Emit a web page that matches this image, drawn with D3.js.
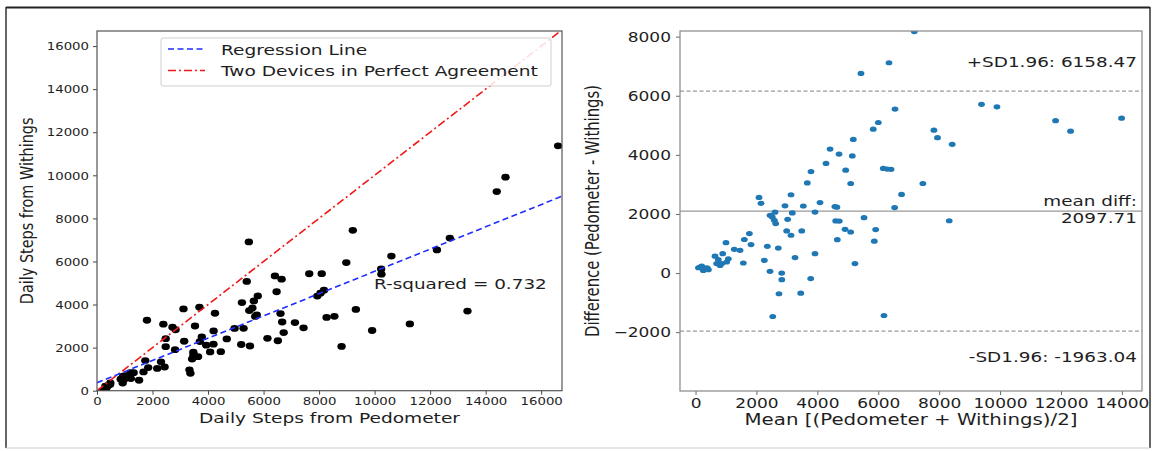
<!DOCTYPE html>
<html>
<head>
<meta charset="utf-8">
<script src="https://cdn.jsdelivr.net/npm/d3@7"></script>
<style>
  body { margin: 0; background: #fff; }
  text { font-family: "DejaVu Sans", sans-serif; fill: #1e1e1e; }
</style>
</head>
<body>
<svg id="chart" width="1155" height="451"></svg>
<script>
// Daily steps per participant-day
const pedometer = [
  11270, 9910, 8810, 9325, 8550, 8270, 10245, 10235, 10605, 12245,
  12710, 14400, 14715, 16610, 7440, 6515, 6725, 7130, 6140, 5510,
  6670, 7935, 8050, 8175, 5195, 6610, 8980, 8095, 7645, 9215,
  4460, 3365, 3330, 4075, 4675, 5280, 5700, 5755, 3640, 4195,
  4955, 3425, 3470, 3480, 3470, 3935, 6470, 5485, 5600, 3705,
  3775, 4200, 5650, 5790, 6650, 2435, 2170, 5220, 6410, 1515,
  2305, 1675, 1845, 2810, 3140, 1220, 4250, 3530, 925, 975,
  1320, 1020, 1210, 855, 935, 2475, 1740, 5395, 185, 325,
  385, 480, 300, 250, 365, 470, 2475, 2830, 2720, 3690,
  2390, 3115, 1800, 5470, 13345
];
const withings = [
  3100, 2795, 2055, 3775, 3455, 3400, 5410, 5655, 6250, 6535,
  7085, 9245, 9915, 11370, 2920, 2320, 2700, 3165, 2430, 2075,
  3190, 4395, 4530, 4665, 2145, 3580, 5950, 5435, 5430, 7445,
  1810, 805, 970, 1800, 2405, 2895, 3450, 3525, 1580, 2160,
  2890, 1470, 1570, 1695, 1795, 2115, 4595, 3720, 3840, 2280,
  2495, 2775, 4170, 4400, 5180, 1100, 1035, 4090, 5330, 485,
  1340, 870, 1075, 1905, 2295, 565, 3595, 3005, 355, 520,
  835, 700, 835, 535, 675, 2045, 1400, 5075, 5, 85,
  240, 365, 210, 50, 195, 290, 2415, 2830, 2945, 3875,
  3090, 3795, 3270, 6905, 3695
];

// fitted line and Bland-Altman limits as printed on the chart
const regIntercept = 370;
const regSlope = 0.517;
const rSquared = '0.732';
const meanDiff = 2097.71;
const upperSD = 6158.47;
const lowerSD = -1963.04;

const leftTicks = [0, 2000, 4000, 6000, 8000, 10000, 12000, 14000, 16000];
const rightXTicks = [0, 2000, 4000, 6000, 8000, 10000, 12000, 14000];
const rightYTicks = [-2000, 0, 2000, 4000, 6000, 8000];

const SY = 0.78; // the picture is squashed vertically

const svg = d3.select('#chart');

// outer frame
svg.append('line').attr('x1', 6).attr('x2', 1150).attr('y1', 7.5).attr('y2', 7.5).attr('stroke', '#222').attr('stroke-width', 2);
svg.append('line').attr('x1', 6).attr('x2', 6).attr('y1', 7).attr('y2', 448).attr('stroke', '#333').attr('stroke-width', 1.5);
svg.append('line').attr('x1', 1150).attr('x2', 1150).attr('y1', 7).attr('y2', 448).attr('stroke', '#333').attr('stroke-width', 1.5);
svg.append('line').attr('x1', 6).attr('x2', 1150).attr('y1', 448).attr('y2', 448).attr('stroke', '#ccc').attr('stroke-width', 1);

function label(g, x, y, s, size, anchor, rotate) {
    return g.append('text')
        .attr('transform', `translate(${x},${y}) scale(1,${SY})` + (rotate ? ' rotate(-90)' : ''))
        .attr('font-size', size)
        .attr('text-anchor', anchor || 'start')
        .text(s);
}

function styleAxis(g, orient, size, offset, color) {
    g.select('.domain').remove();
    g.selectAll('.tick line').attr('stroke', color);
    g.selectAll('.tick text')
        .attr('x', null).attr('y', null).attr('dy', null)
        .attr('font-size', size)
        .attr('fill', '#1e1e1e')
        .attr('transform', orient === 'bottom'
            ? `translate(0,${offset}) scale(1,${SY})`
            : `translate(${-offset},${size * SY * 0.36}) scale(1,${SY})`);
}

// ---------- left: scatter ----------
const L = { x0: 97, x1: 562, y0: 31, y1: 390.7 };
const lx = d3.scaleLinear().domain([0, 16750]).range([L.x0, L.x1]);
const ly = d3.scaleLinear().domain([0, 16700]).range([L.y1, L.y0]);

const left = svg.append('g');
left.append('clipPath').attr('id', 'clipL').append('rect')
    .attr('x', L.x0).attr('y', L.y0).attr('width', L.x1 - L.x0).attr('height', L.y1 - L.y0);

const lxAxis = left.append('g').attr('transform', `translate(0,${L.y1})`)
    .call(d3.axisBottom(lx).tickValues(leftTicks).tickFormat(d3.format('d')).tickSize(4));
styleAxis(lxAxis, 'bottom', 13.3, 14.5, '#444');
const lyAxis = left.append('g').attr('transform', `translate(${L.x0},0)`)
    .call(d3.axisLeft(ly).tickValues(leftTicks).tickFormat(d3.format('d')).tickSize(4));
styleAxis(lyAxis, 'left', 13.3, 8, '#444');

const plotL = left.append('g').attr('clip-path', 'url(#clipL)');

plotL.selectAll('ellipse')
    .data(pedometer.map((p, i) => [p, withings[i]]))
    .join('ellipse')
    .attr('cx', d => lx(d[0]))
    .attr('cy', d => ly(d[1]))
    .attr('rx', 4.2).attr('ry', 3.4)
    .attr('fill', '#000');

// perfect agreement y = x
plotL.append('line')
    .attr('x1', lx(0)).attr('y1', ly(0))
    .attr('x2', lx(16750)).attr('y2', ly(16750))
    .attr('stroke', '#f01818').attr('stroke-width', 1.6)
    .attr('stroke-dasharray', '8,3,2,3');

// regression line
plotL.append('line')
    .attr('x1', lx(0)).attr('y1', ly(regIntercept))
    .attr('x2', lx(16750)).attr('y2', ly(regIntercept + regSlope * 16750))
    .attr('stroke', '#1f2cff').attr('stroke-width', 1.6)
    .attr('stroke-dasharray', '6,3.5');

left.append('rect')
    .attr('x', L.x0).attr('y', L.y0).attr('width', L.x1 - L.x0).attr('height', L.y1 - L.y0)
    .attr('fill', 'none').attr('stroke', '#555').attr('stroke-width', 1.2);

// legend
const leg = left.append('g');
leg.append('rect').attr('x', 161).attr('y', 38).attr('width', 390).attr('height', 48)
    .attr('rx', 2).attr('fill', 'rgba(255,255,255,0.85)').attr('stroke', '#d0d0d0');
leg.append('line').attr('x1', 168).attr('x2', 205).attr('y1', 49).attr('y2', 49)
    .attr('stroke', '#1f2cff').attr('stroke-width', 1.6).attr('stroke-dasharray', '6,3.5');
leg.append('line').attr('x1', 168).attr('x2', 205).attr('y1', 70.5).attr('y2', 70.5)
    .attr('stroke', '#f01818').attr('stroke-width', 1.6).attr('stroke-dasharray', '8,3,2,3');
label(leg, 221, 54.5, 'Regression Line', 18.6);
label(leg, 221, 75.5, 'Two Devices in Perfect Agreement', 18.6);

label(left, 374, 288.5, 'R-squared = ' + rSquared, 18.4);

label(left, (L.x0 + L.x1) / 2, 423, 'Daily Steps from Pedometer', 18.6, 'middle');
label(left, 32.5, (L.y0 + L.y1) / 2, 'Daily Steps from Withings', 18.5, 'middle', true);

// ---------- right: Bland-Altman ----------
const R = { x0: 680, x1: 1142, y0: 31, y1: 391 };
const rx = d3.scaleLinear().domain([-510, 14660]).range([R.x0, R.x1]);
const ry = d3.scaleLinear().domain([-3990, 8190]).range([R.y1, R.y0]);

const right = svg.append('g');
right.append('clipPath').attr('id', 'clipR').append('rect')
    .attr('x', R.x0).attr('y', R.y0).attr('width', R.x1 - R.x0).attr('height', R.y1 - R.y0);

const rxAxis = right.append('g').attr('transform', `translate(0,${R.y1})`)
    .call(d3.axisBottom(rx).tickValues(rightXTicks).tickFormat(d3.format('d')).tickSize(4));
styleAxis(rxAxis, 'bottom', 17, 17, '#666');
const ryAxis = right.append('g').attr('transform', `translate(${R.x0},0)`)
    .call(d3.axisLeft(ry).tickValues(rightYTicks).tickFormat(d3.format('d')).tickSize(4));
styleAxis(ryAxis, 'left', 17, 9, '#666');
ryAxis.selectAll('.tick text').text(d => d < 0 ? '\u2212' + Math.abs(d) : d);

const plotR = right.append('g').attr('clip-path', 'url(#clipR)');

plotR.append('line').attr('x1', R.x0).attr('x2', R.x1).attr('y1', ry(meanDiff)).attr('y2', ry(meanDiff))
    .attr('stroke', '#999').attr('stroke-width', 1.3);
[upperSD, lowerSD].forEach(v => {
    plotR.append('line').attr('x1', R.x0).attr('x2', R.x1).attr('y1', ry(v)).attr('y2', ry(v))
        .attr('stroke', '#999').attr('stroke-width', 1.2).attr('stroke-dasharray', '4,2.5');
});

plotR.selectAll('ellipse')
    .data(pedometer.map((p, i) => [(p + withings[i]) / 2, p - withings[i]]))
    .join('ellipse')
    .attr('cx', d => rx(d[0]))
    .attr('cy', d => ry(d[1]))
    .attr('rx', 3.4).attr('ry', 2.6)
    .attr('fill', '#1f77b4');

right.append('rect')
    .attr('x', R.x0).attr('y', R.y0).attr('width', R.x1 - R.x0).attr('height', R.y1 - R.y0)
    .attr('fill', 'none').attr('stroke', '#888').attr('stroke-width', 1.2);

label(right, 1137, 67, '+SD1.96: ' + upperSD.toFixed(2), 18.4, 'end');
label(right, 1137, 206, 'mean diff:', 18.4, 'end');
label(right, 1137, 223, meanDiff.toFixed(2), 18.4, 'end');
label(right, 1137, 361.5, '-SD1.96: ' + lowerSD.toFixed(2), 18.4, 'end');

label(right, (R.x0 + R.x1) / 2, 425, 'Mean [(Pedometer + Withings)/2]', 19.8, 'middle');
label(right, 599, (R.y0 + R.y1) / 2, 'Difference (Pedometer - Withings)', 19, 'middle', true);
</script>
</body>
</html>
